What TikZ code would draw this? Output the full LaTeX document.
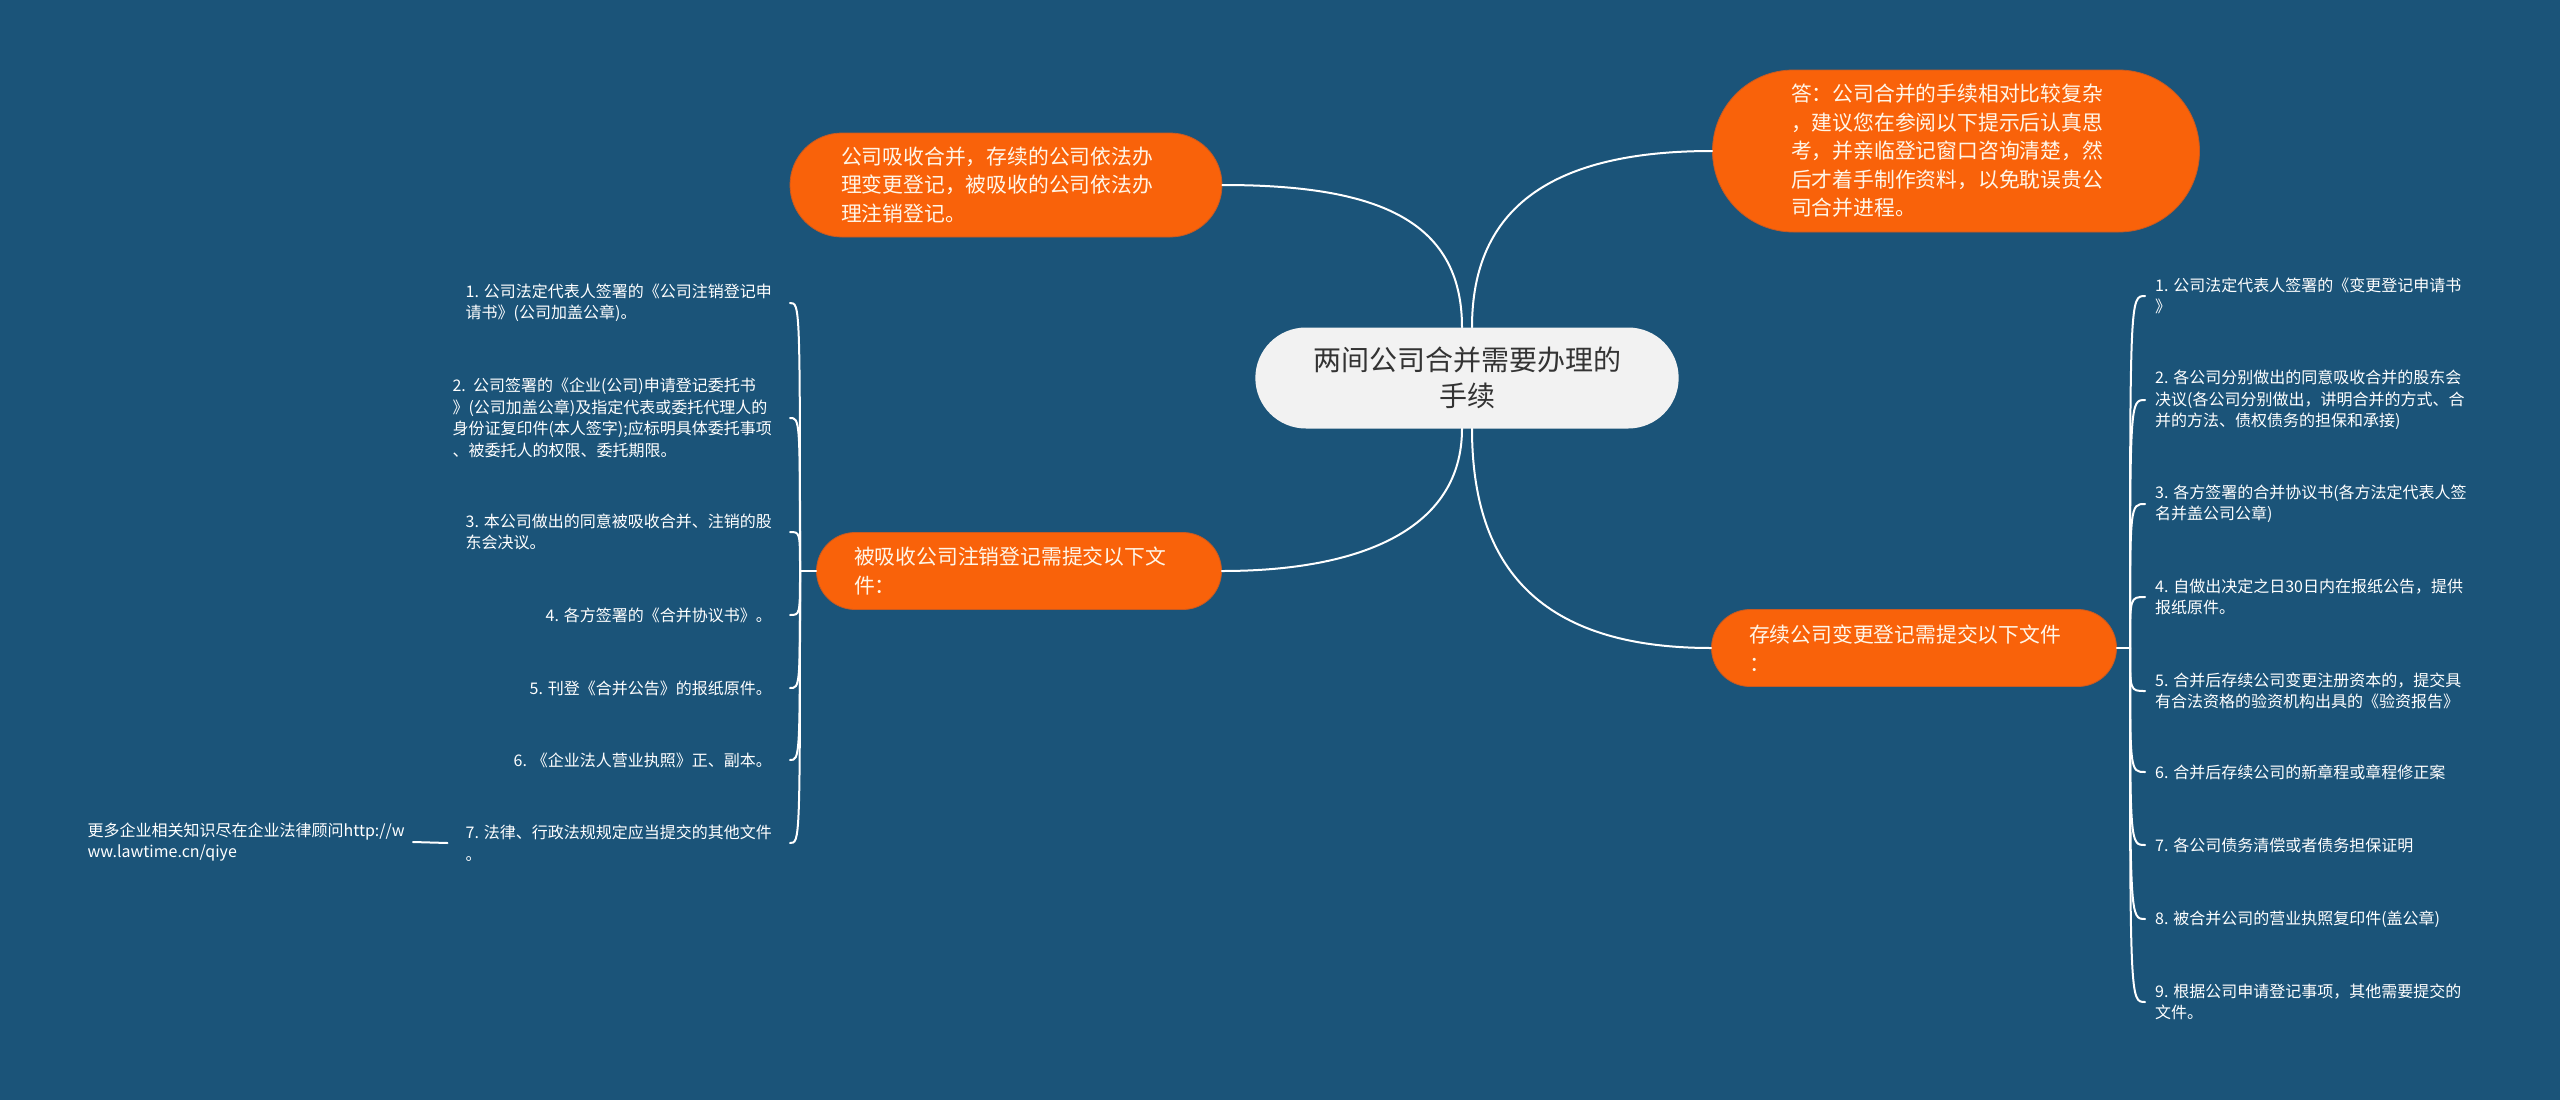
\documentclass[tikz,border=0pt]{standalone}
\usepackage{fontspec}
\newfontfamily\cjk{Noto Sans CJK SC}
\usepackage{tikz}
\usetikzlibrary{shapes.misc}
\definecolor{bgblue}{HTML}{1B5479}
\definecolor{orng}{HTML}{F9620A}
\definecolor{orngedge}{HTML}{C85A22}
\definecolor{cream}{HTML}{FFF6E8}
\definecolor{hubgray}{HTML}{F2F2F2}

\begin{document}
\begin{tikzpicture}[x=1pt,y=-1pt,font=\cjk,line cap=round,
  hub/.style={rounded rectangle,fill=hubgray,text=black!80,align=center,
    font=\cjk\fontsize{28}{36}\selectfont,minimum width=430pt,minimum height=101pt},
  topic/.style={rectangle,fill=orng,draw=orngedge,line width=0.8pt,text=cream,
    text width=330pt,align=left,inner xsep=0pt,font=\cjk\fontsize{20.8}{28.5}\selectfont},
  leaf/.style={text=white,align=left,font=\cjk\fontsize{16}{21.5}\selectfont},
  link/.style={draw=white,line width=2pt}]
\useasboundingbox (0,0) rectangle (2560,1100);
\fill[bgblue] (0,0) rectangle (2560,1100);

\node[hub] (ctr) at (1467,378) {两间公司合并需要办理的\\手续};
\node[topic,minimum width=432pt,minimum height=104pt,rounded corners=52pt] (tl) at (1006,185) {公司吸收合并，存续的公司依法办\\理变更登记，被吸收的公司依法办\\理注销登记。};
\node[topic,minimum width=487pt,minimum height=162pt,rounded corners=81pt] (tr) at (1956,151) {答：公司合并的手续相对比较复杂\\，建议您在参阅以下提示后认真思\\考，并亲临登记窗口咨询清楚，然\\后才着手制作资料，以免耽误贵公\\司合并进程。};
\node[topic,minimum width=405pt,minimum height=77pt,rounded corners=38.5pt] (lm) at (1019,571) {被吸收公司注销登记需提交以下文\\件：};
\node[topic,minimum width=405pt,minimum height=77pt,rounded corners=38.5pt] (rm) at (1914,648) {存续公司变更登记需提交以下文件\\：};

% left list
\node[leaf,anchor=east,inner xsep=18pt] (l1) at (790,303) {1. 公司法定代表人签署的《公司注销登记申\\请书》(公司加盖公章)。};
\node[leaf,anchor=east,inner xsep=18pt] (l2) at (790,418) {2.~~公司签署的《企业(公司)申请登记委托书\\》(公司加盖公章)及指定代表或委托代理人的\\身份证复印件(本人签字);应标明具体委托事项\\、被委托人的权限、委托期限。};
\node[leaf,anchor=east,inner xsep=18pt] (l3) at (790,532) {3. 本公司做出的同意被吸收合并、注销的股\\东会决议。};
\node[leaf,anchor=east,inner xsep=18pt] (l4) at (790,615) {4. 各方签署的《合并协议书》。};
\node[leaf,anchor=east,inner xsep=18pt] (l5) at (790,688) {5. 刊登《合并公告》的报纸原件。};
\node[leaf,anchor=east,inner xsep=18pt] (l6) at (790,760) {6. 《企业法人营业执照》正、副本。};
\node[leaf,anchor=east,inner xsep=18pt] (l7) at (790,843) {7. 法律、行政法规规定应当提交的其他文件\\。};
\node[leaf,anchor=east,inner xsep=8pt] (more) at (413,842) {更多企业相关知识尽在企业法律顾问http://w\\ww.lawtime.cn/qiye};

% right list
\node[leaf,anchor=west,inner xsep=10pt] (r1) at (2145,296) {1. 公司法定代表人签署的《变更登记申请书\\》};
\node[leaf,anchor=west,inner xsep=10pt] (r2) at (2145,400) {2. 各公司分别做出的同意吸收合并的股东会\\决议(各公司分别做出，讲明合并的方式、合\\并的方法、债权债务的担保和承接)};
\node[leaf,anchor=west,inner xsep=10pt] (r3) at (2145,504) {3. 各方签署的合并协议书(各方法定代表人签\\名并盖公司公章)};
\node[leaf,anchor=west,inner xsep=10pt] (r4) at (2145,597) {4. 自做出决定之日30日内在报纸公告，提供\\报纸原件。};
\node[leaf,anchor=west,inner xsep=10pt] (r5) at (2145,691) {5. 合并后存续公司变更注册资本的，提交具\\有合法资格的验资机构出具的《验资报告》};
\node[leaf,anchor=west,inner xsep=10pt] (r6) at (2145,772) {6. 合并后存续公司的新章程或章程修正案};
\node[leaf,anchor=west,inner xsep=10pt] (r7) at (2145,845) {7. 各公司债务清偿或者债务担保证明};
\node[leaf,anchor=west,inner xsep=10pt] (r8) at (2145,919) {8. 被合并公司的营业执照复印件(盖公章)};
\node[leaf,anchor=west,inner xsep=10pt] (r9) at (2145,1002) {9. 根据公司申请登记事项，其他需要提交的\\文件。};

% branches
\draw[link] ([xshift=-5pt]ctr.north) .. controls +(0,-110) and +(150,0) .. (tl.east);
\draw[link] ([xshift=5pt]ctr.north) .. controls +(0,-120) and +(-160,0) .. (tr.west);
\draw[link] ([xshift=-5pt]ctr.south) .. controls +(0,100) and +(140,0) .. (lm.east);
\draw[link] ([xshift=5pt]ctr.south) .. controls +(0,140) and +(-170,0) .. (rm.west);

\coordinate (lj) at (800,571);
\draw[link] (lm.west) -- (lj);
\foreach \i in {1,...,7}
  \draw[link] (lj) .. controls (lj |- l\i.east) .. (l\i.east);
\draw[link] (more.east) -- (l7.west);

\coordinate (rj) at (2130,648);
\draw[link] (rm.east) -- (rj);
\foreach \i in {1,...,9}
  \draw[link] (rj) .. controls (rj |- r\i.west) .. (r\i.west);
\end{tikzpicture}
\end{document}
